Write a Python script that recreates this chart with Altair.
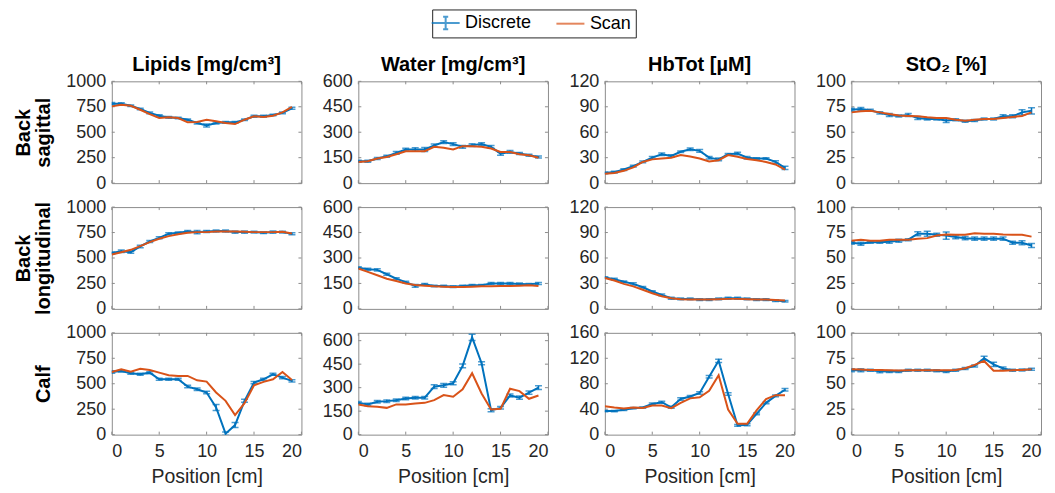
import altair as alt
import pandas as pd

FONT = "Liberation Sans"
BLUE = "#0072BD"
ORANGE = "#D95319"
FRAME = "#8c8c8c"
TXT = "#262626"

POSITION = [0, 1, 2, 3, 4, 5, 6, 7, 8, 9, 10, 11, 12, 13, 14, 15, 16, 17, 18, 19]
X_TICKS = [0, 5, 10, 15, 20]

COL_TITLES = ["Lipids [mg/cm³]", "Water [mg/cm³]", "HbTot [µM]", "StO₂ [%]"]
ROW_TITLES = [["Back", "sagittal"], ["Back", "longitudinal"], ["Calf"]]

Y_MAX = [[1000, 600, 120, 100], [1000, 600, 120, 100], [1000, 650, 160, 100]]
Y_TICKS = [
    [[0, 250, 500, 750, 1000], [0, 150, 300, 450, 600], [0, 30, 60, 90, 120], [0, 25, 50, 75, 100]],
    [[0, 250, 500, 750, 1000], [0, 150, 300, 450, 600], [0, 30, 60, 90, 120], [0, 25, 50, 75, 100]],
    [[0, 250, 500, 750, 1000], [0, 150, 300, 450, 600], [0, 40, 80, 120, 160], [0, 25, 50, 75, 100]],
]

# ---- Back sagittal ----
LIP_SAG_D = [780, 780, 760, 728, 690, 662, 646, 640, 623, 590, 567, 590, 597, 597, 623, 656, 656, 669, 690, 735]
LIP_SAG_E = [12, 10, 8, 8, 8, 10, 8, 8, 8, 10, 15, 10, 8, 8, 8, 10, 10, 8, 8, 10]
LIP_SAG_S = [754, 770, 760, 721, 678, 640, 646, 640, 597, 600, 623, 607, 590, 580, 623, 656, 649, 662, 695, 748]

WAT_SAG_D = [129, 129, 145, 158, 178, 198, 198, 198, 222, 242, 230, 214, 224, 230, 214, 174, 184, 174, 164, 154]
WAT_SAG_E = [6, 6, 6, 6, 8, 8, 10, 12, 8, 8, 8, 8, 8, 8, 8, 10, 8, 6, 6, 6]
WAT_SAG_S = [125, 129, 145, 154, 170, 188, 188, 188, 214, 208, 198, 218, 218, 214, 204, 184, 184, 170, 164, 150]

HBT_SAG_D = [12, 13, 16, 20, 25, 30, 34, 32, 37, 40, 38, 30, 28, 34, 35, 30, 29, 29, 25, 18]
HBT_SAG_E = [1, 1, 1, 1, 1, 1.5, 1.5, 1.5, 1, 1.5, 1.5, 1.5, 1.5, 1, 1.5, 1.5, 1, 1, 1.5, 2]
HBT_SAG_S = [11, 12, 14.5, 18.5, 25, 28, 29, 30, 33, 31.5, 29, 25.5, 27, 33, 31, 28.5, 27, 25, 22, 16]

STO_SAG_D = [72, 72.8, 71.5, 69, 67, 66, 67, 64, 63, 63, 61.6, 62.3, 60.7, 61.6, 63, 63, 65.6, 65.6, 69.5, 71]
STO_SAG_E = [1.5, 1.5, 1, 1, 1.5, 1, 1.5, 1.5, 1, 1, 2, 1, 1, 1, 1, 1, 1.5, 1.5, 2.5, 3]
STO_SAG_S = [69.5, 70.5, 71, 69.5, 68, 66.5, 66, 65.6, 64.6, 64, 64, 62.3, 61.3, 62.3, 63, 63, 64, 65, 66, 69.5]

# ---- Back longitudinal ----
LIP_LON_D = [548, 567, 557, 613, 662, 698, 738, 748, 760, 754, 760, 764, 764, 754, 754, 754, 748, 754, 754, 738]
LIP_LON_E = [10, 12, 10, 12, 10, 10, 10, 8, 10, 15, 10, 10, 10, 10, 12, 8, 8, 10, 8, 10]
LIP_LON_S = [534, 557, 580, 616, 656, 689, 715, 734, 748, 754, 754, 760, 760, 760, 757, 754, 754, 754, 757, 741]

WAT_LON_D = [242, 234, 230, 204, 178, 158, 135, 145, 135, 135, 131, 135, 139, 139, 149, 149, 150, 147, 145, 149]
WAT_LON_E = [6, 6, 6, 6, 5, 5, 8, 5, 5, 5, 5, 5, 5, 5, 6, 6, 6, 5, 5, 6]
WAT_LON_S = [238, 218, 198, 178, 164, 150, 141, 137, 133, 131, 129, 129, 131, 133, 133, 135, 135, 137, 139, 135]

HBT_LON_D = [37, 35, 32, 29.5, 25.5, 20.5, 16.5, 12.5, 11.8, 11.8, 11, 11, 11.8, 12.6, 12.6, 11.8, 11, 11, 9.8, 9]
HBT_LON_E = [1, 1, 1, 1.2, 1, 1, 1, 1.2, 1, 1, 1, 1, 1, 1.2, 1.2, 1, 1, 1, 1, 1]
HBT_LON_S = [36.5, 33.5, 29.5, 26.5, 22.5, 18.5, 15, 12.6, 11.4, 11, 11, 11, 11.4, 11.8, 11.8, 11.4, 11, 11, 10.6, 9.8]

STO_LON_D = [65, 64, 65.5, 65.5, 66, 67, 68, 73.8, 73.8, 72.8, 72, 70.5, 69.5, 69, 69, 69, 69, 65, 65, 62.3]
STO_LON_E = [1.5, 1.5, 1, 1, 1.5, 1.5, 1, 2, 2.5, 1.5, 3.5, 1.5, 1.5, 1.5, 1.5, 1.5, 1.5, 1.5, 2, 2]
STO_LON_S = [67, 68, 67, 67, 68, 68, 68, 69, 69.5, 72, 73, 72.8, 72.8, 74.4, 73.8, 73.8, 73, 72.8, 72.8, 71]

# ---- Calf ----
LIP_CALF_D = [616, 625, 603, 593, 609, 544, 544, 544, 472, 446, 414, 267, 10, 94, 332, 511, 544, 593, 560, 528]
LIP_CALF_E = [12, 10, 10, 10, 10, 10, 10, 10, 12, 12, 12, 30, 15, 25, 15, 12, 10, 10, 10, 12]
LIP_CALF_S = [616, 642, 619, 648, 635, 609, 583, 577, 577, 534, 521, 414, 332, 192, 309, 485, 518, 544, 616, 537]

WAT_CALF_D = [203, 193, 210, 214, 220, 231, 236, 236, 306, 315, 328, 439, 621, 456, 156, 171, 250, 236, 268, 300]
WAT_CALF_E = [8, 8, 8, 8, 8, 8, 8, 8, 12, 12, 10, 12, 20, 10, 10, 8, 10, 10, 10, 12]
WAT_CALF_S = [193, 182, 178, 171, 193, 193, 199, 203, 220, 253, 242, 289, 392, 263, 161, 165, 293, 278, 229, 250]

HBT_CALF_D = [37, 37, 39, 41.6, 42.6, 48.3, 51, 43, 56, 60, 65.5, 91, 116, 64, 14.5, 15.6, 32.7, 50, 61, 70.6]
HBT_CALF_E = [1, 1, 1, 1, 1, 1.5, 1.5, 1.5, 2, 1.5, 2, 2, 2.5, 2, 1.5, 1.5, 1.5, 1.5, 1.5, 2]
HBT_CALF_S = [44.7, 42.6, 41, 42.6, 42, 45.7, 45.7, 41.6, 50, 57, 58.7, 69, 93.5, 39.5, 17, 17, 38, 56, 62, 62]

STO_CALF_D = [63.3, 63.3, 63.3, 62.3, 62, 62, 63.3, 63.3, 63.3, 62.7, 62, 63.3, 65, 67.5, 75, 69, 65, 63.3, 63.6, 64.3]
STO_CALF_E = [1.5, 1.5, 1, 1.5, 1, 1, 1, 1, 1, 1, 1, 1, 1, 1, 2, 2, 1.5, 1, 1, 1]
STO_CALF_S = [64.3, 64, 63.6, 63.6, 63.3, 63, 63.3, 63.3, 63.3, 63.3, 63.3, 63.6, 65.3, 68.5, 72.4, 62.7, 62.7, 63.3, 63.6, 64.3]

PANELS = [
    [(LIP_SAG_D, LIP_SAG_E, LIP_SAG_S), (WAT_SAG_D, WAT_SAG_E, WAT_SAG_S),
     (HBT_SAG_D, HBT_SAG_E, HBT_SAG_S), (STO_SAG_D, STO_SAG_E, STO_SAG_S)],
    [(LIP_LON_D, LIP_LON_E, LIP_LON_S), (WAT_LON_D, WAT_LON_E, WAT_LON_S),
     (HBT_LON_D, HBT_LON_E, HBT_LON_S), (STO_LON_D, STO_LON_E, STO_LON_S)],
    [(LIP_CALF_D, LIP_CALF_E, LIP_CALF_S), (WAT_CALF_D, WAT_CALF_E, WAT_CALF_S),
     (HBT_CALF_D, HBT_CALF_E, HBT_CALF_S), (STO_CALF_D, STO_CALF_E, STO_CALF_S)],
]

SERIES = ["Discrete", "Scan"]
SHAPES = ["M-1.65,0H1.65M0,-0.75V0.75M-0.3,-0.75H0.3M-0.3,0.75H0.3", "M-1.65,0H1.65"]

W, H = 190, 102
TL = 3  # inward tick length


def panel(r, c):
    d_vals, e_vals, s_vals = PANELS[r][c]
    disc = pd.DataFrame({
        "x": POSITION,
        "y": d_vals,
        "lo": [v - e for v, e in zip(d_vals, e_vals)],
        "hi": [v + e for v, e in zip(d_vals, e_vals)],
    })
    scan = pd.DataFrame({"x": POSITION, "y": s_vals})
    xt = pd.DataFrame({"x": X_TICKS})
    yt = pd.DataFrame({"y": Y_TICKS[r][c]})

    xscale = alt.Scale(domain=[0, 20], nice=False, zero=False)
    yscale = alt.Scale(domain=[0, Y_MAX[r][c]], nice=False)

    if r == 2:
        xaxis = alt.Axis(values=X_TICKS, labelFontSize=18, labelFont=FONT, labelColor=TXT,
                         tickSize=0, labelPadding=8, domain=False, grid=False,
                         title="Position [cm]", titleFontSize=19.5, titleFont=FONT,
                         titleFontWeight="normal", titleColor=TXT, titlePadding=7)
    else:
        xaxis = None

    ykw = dict(values=Y_TICKS[r][c], format="d", labelFontSize=18, labelFont=FONT, labelColor=TXT,
               tickSize=0, labelPadding=6, domain=False, grid=False)
    if c == 0:
        title_lines = ROW_TITLES[r]
        tx = -82 if len(title_lines) == 2 else -62
        yaxis = alt.Axis(title=title_lines, titleFontSize=20, titleFont=FONT,
                         titleFontWeight="bold", titleColor="black", titleAngle=270,
                         titleBaseline="alphabetic", titleAlign="center",
                         titleX=tx, titleY=H / 2, titleLineHeight=20, **ykw)
    else:
        yaxis = alt.Axis(title=None, **ykw)

    def X(f):
        return alt.X(f, type="quantitative", scale=xscale, axis=xaxis)

    def Y(f):
        return alt.Y(f, type="quantitative", scale=yscale, axis=yaxis)

    layers = [
        alt.Chart(xt).mark_rule(color=FRAME, strokeWidth=1).encode(
            x=X("x"), y=alt.value(H), y2=alt.value(H - TL)),
        alt.Chart(xt).mark_rule(color=FRAME, strokeWidth=1).encode(
            x=X("x"), y=alt.value(0), y2=alt.value(TL)),
        alt.Chart(yt).mark_rule(color=FRAME, strokeWidth=1).encode(
            y=Y("y"), x=alt.value(0), x2=alt.value(TL)),
        alt.Chart(yt).mark_rule(color=FRAME, strokeWidth=1).encode(
            y=Y("y"), x=alt.value(W - TL), x2=alt.value(W)),
        alt.Chart(disc).mark_errorbar(color=BLUE, ticks={"size": 7}, thickness=1.5, clip=True).encode(
            x=X("x"), y=Y("lo"), y2="hi"),
        alt.Chart(disc).mark_line(color=BLUE, strokeWidth=2, clip=True).encode(x=X("x"), y=Y("y")),
        alt.Chart(scan).mark_line(color=ORANGE, strokeWidth=2, clip=True).encode(x=X("x"), y=Y("y")),
    ]

    if r == 0 and c == 0:
        leg = alt.Legend(title=None, orient="none", legendX=321, legendY=-72, direction="horizontal",
                         labelFont=FONT, labelFontSize=18, labelColor="black", labelOffset=10,
                         symbolSize=289, symbolStrokeWidth=2, columnPadding=20,
                         padding=4, strokeColor=TXT, fillColor="white", cornerRadius=0)
        legend_layer = alt.Chart(disc).transform_calculate(series="'Discrete'").transform_filter(
            "false").mark_point(filled=False, strokeWidth=2).encode(
            x=X("x"), y=Y("y"),
            color=alt.Color("series:N", scale=alt.Scale(domain=SERIES, range=[BLUE, ORANGE]), legend=leg),
            shape=alt.Shape("series:N", scale=alt.Scale(domain=SERIES, range=SHAPES), legend=leg),
        )
        layers.append(legend_layer)

    props = dict(width=W, height=H)
    if r == 0:
        props["title"] = alt.TitleParams(COL_TITLES[c], fontSize=20, font=FONT, fontWeight="bold",
                                         color="black", offset=5, dy=8, anchor="middle")
    return alt.layer(*layers).properties(**props)


charts = [panel(r, c) for r in range(3) for c in range(4)]

chart = alt.concat(*charts, columns=4, bounds="flush",
                   spacing={"row": 24, "column": 57}).properties(
    padding={"left": 5, "top": 0, "right": 5, "bottom": 5}
).configure(font=FONT).configure_view(stroke=FRAME, strokeWidth=1)

chart.save("out.html", embed_options={"renderer": "svg", "actions": False})
